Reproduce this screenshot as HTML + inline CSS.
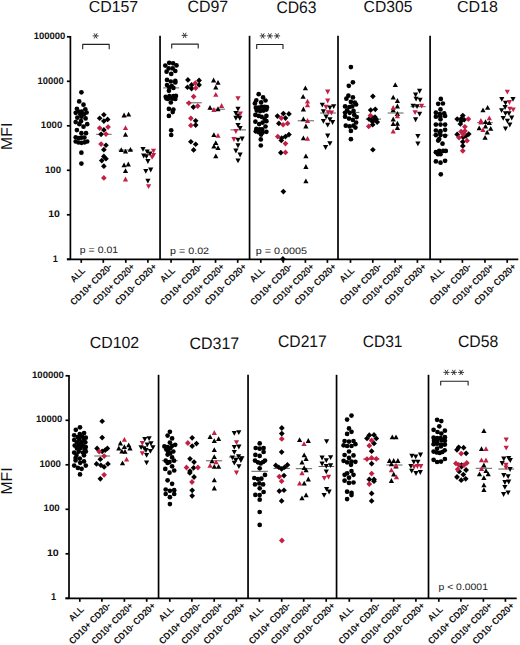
<!DOCTYPE html>
<html><head><meta charset="utf-8"><style>
html,body{margin:0;padding:0;background:#fff;}
svg{display:block;}
text{font-family:"Liberation Sans",sans-serif;}
</style></head><body>
<svg width="520" height="645" viewBox="0 0 520 645" text-rendering="geometricPrecision">
<rect width="520" height="645" fill="#fff"/>
<g stroke="#000" stroke-width="1.7" fill="none"><line x1="70.4" y1="35.949999999999996" x2="70.4" y2="259.35"/><line x1="66.9" y1="36.8" x2="70.4" y2="36.8"/><line x1="66.9" y1="81.3" x2="70.4" y2="81.3"/><line x1="66.9" y1="125.8" x2="70.4" y2="125.8"/><line x1="66.9" y1="170.3" x2="70.4" y2="170.3"/><line x1="66.9" y1="214.8" x2="70.4" y2="214.8"/><line x1="66.9" y1="259.3" x2="70.4" y2="259.3"/><line x1="66.9" y1="259.35" x2="518.3" y2="259.35"/><line x1="160.05" y1="35.8" x2="160.05" y2="259.35"/><line x1="249.55" y1="35.8" x2="249.55" y2="259.35"/><line x1="338.0" y1="35.8" x2="338.0" y2="259.35"/><line x1="430.1" y1="35.8" x2="430.1" y2="259.35"/><line x1="81.25" y1="259.35" x2="81.25" y2="262.85"/><line x1="103.3" y1="259.35" x2="103.3" y2="262.85"/><line x1="125.8" y1="259.35" x2="125.8" y2="262.85"/><line x1="147.9" y1="259.35" x2="147.9" y2="262.85"/><line x1="171.07" y1="259.35" x2="171.07" y2="262.85"/><line x1="193.3" y1="259.35" x2="193.3" y2="262.85"/><line x1="215.55" y1="259.35" x2="215.55" y2="262.85"/><line x1="237.7" y1="259.35" x2="237.7" y2="262.85"/><line x1="260.8" y1="259.35" x2="260.8" y2="262.85"/><line x1="283.3" y1="259.35" x2="283.3" y2="262.85"/><line x1="305.4" y1="259.35" x2="305.4" y2="262.85"/><line x1="327.4" y1="259.35" x2="327.4" y2="262.85"/><line x1="350.5" y1="259.35" x2="350.5" y2="262.85"/><line x1="372.8" y1="259.35" x2="372.8" y2="262.85"/><line x1="395.1" y1="259.35" x2="395.1" y2="262.85"/><line x1="417.4" y1="259.35" x2="417.4" y2="262.85"/><line x1="440.4" y1="259.35" x2="440.4" y2="262.85"/><line x1="462.4" y1="259.35" x2="462.4" y2="262.85"/><line x1="484.95" y1="259.35" x2="484.95" y2="262.85"/><line x1="507.2" y1="259.35" x2="507.2" y2="262.85"/><line x1="69.0" y1="374.95" x2="69.0" y2="598.3"/><line x1="65.5" y1="375.8" x2="69.0" y2="375.8"/><line x1="65.5" y1="420.3" x2="69.0" y2="420.3"/><line x1="65.5" y1="464.8" x2="69.0" y2="464.8"/><line x1="65.5" y1="509.3" x2="69.0" y2="509.3"/><line x1="65.5" y1="553.8" x2="69.0" y2="553.8"/><line x1="65.5" y1="598.3" x2="69.0" y2="598.3"/><line x1="65.5" y1="598.3" x2="516.7" y2="598.3"/><line x1="158.55" y1="374.8" x2="158.55" y2="598.3"/><line x1="248.05" y1="374.8" x2="248.05" y2="598.3"/><line x1="336.55" y1="374.8" x2="336.55" y2="598.3"/><line x1="428.5" y1="374.8" x2="428.5" y2="598.3"/><line x1="79.8" y1="598.3" x2="79.8" y2="601.8"/><line x1="101.9" y1="598.3" x2="101.9" y2="601.8"/><line x1="124.4" y1="598.3" x2="124.4" y2="601.8"/><line x1="146.7" y1="598.3" x2="146.7" y2="601.8"/><line x1="169.8" y1="598.3" x2="169.8" y2="601.8"/><line x1="191.9" y1="598.3" x2="191.9" y2="601.8"/><line x1="214.2" y1="598.3" x2="214.2" y2="601.8"/><line x1="236.4" y1="598.3" x2="236.4" y2="601.8"/><line x1="259.4" y1="598.3" x2="259.4" y2="601.8"/><line x1="281.7" y1="598.3" x2="281.7" y2="601.8"/><line x1="303.7" y1="598.3" x2="303.7" y2="601.8"/><line x1="326.2" y1="598.3" x2="326.2" y2="601.8"/><line x1="349.3" y1="598.3" x2="349.3" y2="601.8"/><line x1="371.4" y1="598.3" x2="371.4" y2="601.8"/><line x1="393.7" y1="598.3" x2="393.7" y2="601.8"/><line x1="415.9" y1="598.3" x2="415.9" y2="601.8"/><line x1="438.8" y1="598.3" x2="438.8" y2="601.8"/><line x1="460.9" y1="598.3" x2="460.9" y2="601.8"/><line x1="483.4" y1="598.3" x2="483.4" y2="601.8"/><line x1="505.4" y1="598.3" x2="505.4" y2="601.8"/></g>
<text x="88.83" y="12.42" font-size="15.954" font-weight="normal" fill="#111" textLength="49.38" lengthAdjust="spacingAndGlyphs">CD157</text><text x="187.45" y="12.43" font-size="16.401" font-weight="normal" fill="#111" textLength="40.78" lengthAdjust="spacingAndGlyphs">CD97</text><text x="276.38" y="12.52" font-size="16.832" font-weight="normal" fill="#111" textLength="40.21" lengthAdjust="spacingAndGlyphs">CD63</text><text x="363.58" y="12.12" font-size="16.127" font-weight="normal" fill="#111" textLength="48.79" lengthAdjust="spacingAndGlyphs">CD305</text><text x="456.90" y="12.21" font-size="15.943" font-weight="normal" fill="#111" textLength="40.93" lengthAdjust="spacingAndGlyphs">CD18</text><text x="89.71" y="348.17" font-size="16.183" font-weight="normal" fill="#111" textLength="49.46" lengthAdjust="spacingAndGlyphs">CD102</text><text x="189.43" y="348.56" font-size="16.643" font-weight="normal" fill="#111" textLength="49.81" lengthAdjust="spacingAndGlyphs">CD317</text><text x="278.03" y="347.35" font-size="16.77" font-weight="normal" fill="#111" textLength="48.79" lengthAdjust="spacingAndGlyphs">CD217</text><text x="362.68" y="346.52" font-size="16.596" font-weight="normal" fill="#111" textLength="39.79" lengthAdjust="spacingAndGlyphs">CD31</text><text x="458.03" y="346.54" font-size="16.632" font-weight="normal" fill="#111" textLength="40.22" lengthAdjust="spacingAndGlyphs">CD58</text><text x="33.67" y="39.19" font-size="9.472" font-weight="bold" fill="#111" textLength="31.74" lengthAdjust="spacingAndGlyphs">100000</text><text x="37.52" y="83.69" font-size="9.504" font-weight="bold" fill="#111" textLength="26.08" lengthAdjust="spacingAndGlyphs">10000</text><text x="40.83" y="128.19" font-size="9.458" font-weight="bold" fill="#111" textLength="21.42" lengthAdjust="spacingAndGlyphs">1000</text><text x="44.94" y="172.69" font-size="9.459" font-weight="bold" fill="#111" textLength="16.18" lengthAdjust="spacingAndGlyphs">100</text><text x="48.24" y="217.19" font-size="9.548" font-weight="bold" fill="#111" textLength="11.70" lengthAdjust="spacingAndGlyphs">10</text><text x="52.65" y="261.69" font-size="9.563" font-weight="bold" fill="#111" textLength="5.10" lengthAdjust="spacingAndGlyphs">1</text><text x="32.06" y="377.76" font-size="9.45" font-weight="bold" fill="#111" textLength="31.82" lengthAdjust="spacingAndGlyphs">100000</text><text x="36.12" y="422.26" font-size="9.46" font-weight="bold" fill="#111" textLength="26.25" lengthAdjust="spacingAndGlyphs">10000</text><text x="39.40" y="466.76" font-size="9.523" font-weight="bold" fill="#111" textLength="21.55" lengthAdjust="spacingAndGlyphs">1000</text><text x="43.62" y="511.26" font-size="9.457" font-weight="bold" fill="#111" textLength="16.15" lengthAdjust="spacingAndGlyphs">100</text><text x="46.92" y="555.76" font-size="9.472" font-weight="bold" fill="#111" textLength="11.88" lengthAdjust="spacingAndGlyphs">10</text><text x="51.11" y="600.26" font-size="9.925" font-weight="bold" fill="#111" textLength="5.15" lengthAdjust="spacingAndGlyphs">1</text><text x="79.86" y="253.33" font-size="9.4" font-weight="normal" fill="#222" textLength="38.20" lengthAdjust="spacingAndGlyphs">p = 0.01</text><text x="170.12" y="253.81" font-size="9.4" font-weight="normal" fill="#222" textLength="38.96" lengthAdjust="spacingAndGlyphs">p = 0.02</text><text x="255.78" y="253.72" font-size="9.4" font-weight="normal" fill="#222" textLength="51.32" lengthAdjust="spacingAndGlyphs">p = 0.0005</text><text x="438.51" y="590.07" font-size="9.4" font-weight="normal" fill="#222" textLength="49.42" lengthAdjust="spacingAndGlyphs">p &lt; 0.0001</text>
<g font-size="15.8" fill="#111"><text transform="translate(12,136.3) rotate(-90)" text-anchor="middle">MFI</text><text transform="translate(12,481) rotate(-90)" text-anchor="middle">MFI</text></g>
<g font-size="9.3" font-weight="bold" fill="#111"><text transform="translate(85.85,271.15) rotate(-45)" text-anchor="end" textLength="16.8" lengthAdjust="spacingAndGlyphs">ALL</text><text transform="translate(112.60,267.25) rotate(-45)" text-anchor="end" textLength="54.5" lengthAdjust="spacingAndGlyphs">CD10+ CD20-</text><text transform="translate(135.10,267.25) rotate(-45)" text-anchor="end" textLength="54.5" lengthAdjust="spacingAndGlyphs">CD10+ CD20+</text><text transform="translate(157.20,267.25) rotate(-45)" text-anchor="end" textLength="54.5" lengthAdjust="spacingAndGlyphs">CD10- CD20+</text><text transform="translate(175.67,271.15) rotate(-45)" text-anchor="end" textLength="16.8" lengthAdjust="spacingAndGlyphs">ALL</text><text transform="translate(202.60,267.25) rotate(-45)" text-anchor="end" textLength="54.5" lengthAdjust="spacingAndGlyphs">CD10+ CD20-</text><text transform="translate(224.85,267.25) rotate(-45)" text-anchor="end" textLength="54.5" lengthAdjust="spacingAndGlyphs">CD10+ CD20+</text><text transform="translate(247.00,267.25) rotate(-45)" text-anchor="end" textLength="54.5" lengthAdjust="spacingAndGlyphs">CD10- CD20+</text><text transform="translate(265.40,271.15) rotate(-45)" text-anchor="end" textLength="16.8" lengthAdjust="spacingAndGlyphs">ALL</text><text transform="translate(292.60,267.25) rotate(-45)" text-anchor="end" textLength="54.5" lengthAdjust="spacingAndGlyphs">CD10+ CD20-</text><text transform="translate(314.70,267.25) rotate(-45)" text-anchor="end" textLength="54.5" lengthAdjust="spacingAndGlyphs">CD10+ CD20+</text><text transform="translate(336.70,267.25) rotate(-45)" text-anchor="end" textLength="54.5" lengthAdjust="spacingAndGlyphs">CD10- CD20+</text><text transform="translate(355.10,271.15) rotate(-45)" text-anchor="end" textLength="16.8" lengthAdjust="spacingAndGlyphs">ALL</text><text transform="translate(382.10,267.25) rotate(-45)" text-anchor="end" textLength="54.5" lengthAdjust="spacingAndGlyphs">CD10+ CD20-</text><text transform="translate(404.40,267.25) rotate(-45)" text-anchor="end" textLength="54.5" lengthAdjust="spacingAndGlyphs">CD10+ CD20+</text><text transform="translate(426.70,267.25) rotate(-45)" text-anchor="end" textLength="54.5" lengthAdjust="spacingAndGlyphs">CD10- CD20+</text><text transform="translate(445.00,271.15) rotate(-45)" text-anchor="end" textLength="16.8" lengthAdjust="spacingAndGlyphs">ALL</text><text transform="translate(471.70,267.25) rotate(-45)" text-anchor="end" textLength="54.5" lengthAdjust="spacingAndGlyphs">CD10+ CD20-</text><text transform="translate(494.25,267.25) rotate(-45)" text-anchor="end" textLength="54.5" lengthAdjust="spacingAndGlyphs">CD10+ CD20+</text><text transform="translate(516.50,267.25) rotate(-45)" text-anchor="end" textLength="54.5" lengthAdjust="spacingAndGlyphs">CD10- CD20+</text><text transform="translate(84.40,610.10) rotate(-45)" text-anchor="end" textLength="16.8" lengthAdjust="spacingAndGlyphs">ALL</text><text transform="translate(111.20,606.20) rotate(-45)" text-anchor="end" textLength="54.5" lengthAdjust="spacingAndGlyphs">CD10+ CD20-</text><text transform="translate(133.70,606.20) rotate(-45)" text-anchor="end" textLength="54.5" lengthAdjust="spacingAndGlyphs">CD10+ CD20+</text><text transform="translate(156.00,606.20) rotate(-45)" text-anchor="end" textLength="54.5" lengthAdjust="spacingAndGlyphs">CD10- CD20+</text><text transform="translate(174.40,610.10) rotate(-45)" text-anchor="end" textLength="16.8" lengthAdjust="spacingAndGlyphs">ALL</text><text transform="translate(201.20,606.20) rotate(-45)" text-anchor="end" textLength="54.5" lengthAdjust="spacingAndGlyphs">CD10+ CD20-</text><text transform="translate(223.50,606.20) rotate(-45)" text-anchor="end" textLength="54.5" lengthAdjust="spacingAndGlyphs">CD10+ CD20+</text><text transform="translate(245.70,606.20) rotate(-45)" text-anchor="end" textLength="54.5" lengthAdjust="spacingAndGlyphs">CD10- CD20+</text><text transform="translate(264.00,610.10) rotate(-45)" text-anchor="end" textLength="16.8" lengthAdjust="spacingAndGlyphs">ALL</text><text transform="translate(291.00,606.20) rotate(-45)" text-anchor="end" textLength="54.5" lengthAdjust="spacingAndGlyphs">CD10+ CD20-</text><text transform="translate(313.00,606.20) rotate(-45)" text-anchor="end" textLength="54.5" lengthAdjust="spacingAndGlyphs">CD10+ CD20+</text><text transform="translate(335.50,606.20) rotate(-45)" text-anchor="end" textLength="54.5" lengthAdjust="spacingAndGlyphs">CD10- CD20+</text><text transform="translate(353.90,610.10) rotate(-45)" text-anchor="end" textLength="16.8" lengthAdjust="spacingAndGlyphs">ALL</text><text transform="translate(380.70,606.20) rotate(-45)" text-anchor="end" textLength="54.5" lengthAdjust="spacingAndGlyphs">CD10+ CD20-</text><text transform="translate(403.00,606.20) rotate(-45)" text-anchor="end" textLength="54.5" lengthAdjust="spacingAndGlyphs">CD10+ CD20+</text><text transform="translate(425.20,606.20) rotate(-45)" text-anchor="end" textLength="54.5" lengthAdjust="spacingAndGlyphs">CD10- CD20+</text><text transform="translate(443.40,610.10) rotate(-45)" text-anchor="end" textLength="16.8" lengthAdjust="spacingAndGlyphs">ALL</text><text transform="translate(470.20,606.20) rotate(-45)" text-anchor="end" textLength="54.5" lengthAdjust="spacingAndGlyphs">CD10+ CD20-</text><text transform="translate(492.70,606.20) rotate(-45)" text-anchor="end" textLength="54.5" lengthAdjust="spacingAndGlyphs">CD10+ CD20+</text><text transform="translate(514.70,606.20) rotate(-45)" text-anchor="end" textLength="54.5" lengthAdjust="spacingAndGlyphs">CD10- CD20+</text></g>
<g stroke="#222" stroke-width="1.1" fill="none" stroke-linejoin="round"><path d="M82.7 49.2V44.4H109.2V49.2"/><path d="M171.7 48.6V44.1H198.2V48.6"/><path d="M256.7 49V44.5H283V49"/><path d="M440.7 385.6V381.3H468.1V385.6"/></g>
<path stroke="#333" stroke-width="0.95" fill="none" d="M92.66 35.90L98.66 35.90M94.16 33.30L97.16 38.50M97.16 33.30L94.16 38.50M181.60 35.40L187.60 35.40M183.10 32.80L186.10 38.00M186.10 32.80L183.10 38.00M259.70 35.90L265.70 35.90M261.20 33.30L264.20 38.50M264.20 33.30L261.20 38.50M266.90 35.90L272.90 35.90M268.40 33.30L271.40 38.50M271.40 33.30L268.40 38.50M274.10 35.90L280.10 35.90M275.60 33.30L278.60 38.50M278.60 33.30L275.60 38.50M443.50 372.40L449.50 372.40M445.00 369.80L448.00 375.00M448.00 369.80L445.00 375.00M450.80 372.40L456.80 372.40M452.30 369.80L455.30 375.00M455.30 369.80L452.30 375.00M458.10 372.40L464.10 372.40M459.60 369.80L462.60 375.00M462.60 369.80L459.60 375.00"/>
<g stroke="#5e5e5e" stroke-width="1"><line x1="96.2" x2="111.6" y1="134.3" y2="134.3"/><line x1="118.5" x2="133.2" y1="150.0" y2="150.0"/><line x1="163.2" x2="179.1" y1="87.9" y2="87.9"/><line x1="186.1" x2="201.8" y1="102.8" y2="102.8"/><line x1="209.0" x2="225.0" y1="109.2" y2="109.2"/><line x1="230.5" x2="246.0" y1="129.9" y2="129.9"/><line x1="297.7" x2="314.0" y1="120.8" y2="120.8"/><line x1="320.1" x2="335.9" y1="113.0" y2="113.0"/><line x1="365.8" x2="381.0" y1="119.1" y2="119.1"/><line x1="387.7" x2="403.5" y1="113.0" y2="113.0"/><line x1="410.5" x2="425.7" y1="106.7" y2="106.7"/><line x1="342.5" x2="359.4" y1="112.4" y2="112.4"/><line x1="432.6" x2="448.4" y1="135.1" y2="135.1"/><line x1="477.1" x2="492.8" y1="122.7" y2="122.7"/><line x1="94.3" x2="110.1" y1="456.0" y2="456.0"/><line x1="161.9" x2="177.8" y1="460.7" y2="460.7"/><line x1="206.0" x2="222.2" y1="460.8" y2="460.8"/><line x1="228.9" x2="244.4" y1="457.0" y2="457.0"/><line x1="251.4" x2="267.9" y1="471.3" y2="471.3"/><line x1="273.5" x2="289.8" y1="468.4" y2="468.4"/><line x1="295.8" x2="312.1" y1="468.7" y2="468.7"/><line x1="318.5" x2="334.2" y1="466.5" y2="466.5"/><line x1="386.3" x2="402.5" y1="465.0" y2="465.0"/><line x1="475.7" x2="492.0" y1="468.3" y2="468.3"/><line x1="498.3" x2="514.1" y1="469.0" y2="469.0"/></g>
<g stroke="#c41f45" stroke-width="1.2"><line x1="363.2" x2="379.4" y1="459.1" y2="459.1"/></g>
<g fill="#c41f45"><path d="M374.0 117.6L376.8 120.4L374.0 123.3L371.1 120.4Z"/></g>
<g fill="#000"><circle cx="81.4" cy="92.3" r="2.35"/><circle cx="79.2" cy="101.4" r="2.35"/><circle cx="83.5" cy="104.7" r="2.35"/><circle cx="76.9" cy="108.8" r="2.35"/><circle cx="85.3" cy="109.3" r="2.35"/><circle cx="75.7" cy="112.8" r="2.35"/><circle cx="78.5" cy="111.5" r="2.35"/><circle cx="81.6" cy="111.5" r="2.35"/><circle cx="86.6" cy="112.5" r="2.35"/><circle cx="80.4" cy="114.3" r="2.35"/><circle cx="83.9" cy="114.3" r="2.35"/><circle cx="77.3" cy="117.7" r="2.35"/><circle cx="81.4" cy="116.7" r="2.35"/><circle cx="85.6" cy="118.4" r="2.35"/><circle cx="75.7" cy="122.1" r="2.35"/><circle cx="81.0" cy="121.2" r="2.35"/><circle cx="79.4" cy="124.2" r="2.35"/><circle cx="87.2" cy="124.2" r="2.35"/><circle cx="83.5" cy="126.7" r="2.35"/><circle cx="76.9" cy="130.1" r="2.35"/><circle cx="81.4" cy="133.2" r="2.35"/><circle cx="86.0" cy="133.2" r="2.35"/><circle cx="75.7" cy="137.3" r="2.35"/><circle cx="78.9" cy="138.2" r="2.35"/><circle cx="81.6" cy="137.6" r="2.35"/><circle cx="84.4" cy="137.6" r="2.35"/><circle cx="75.7" cy="141.5" r="2.35"/><circle cx="78.5" cy="142.5" r="2.35"/><circle cx="81.6" cy="142.8" r="2.35"/><circle cx="84.7" cy="142.3" r="2.35"/><circle cx="87.2" cy="141.5" r="2.35"/><circle cx="81.4" cy="152.7" r="2.35"/><circle cx="81.4" cy="163.6" r="2.35"/><path d="M103.9 111.9L106.7 114.8L103.9 117.6L101.0 114.8Z"/><path d="M99.7 115.4L102.5 118.3L99.7 121.1L96.8 118.3Z"/><path d="M107.6 116.5L110.5 119.4L107.6 122.2L104.8 119.4Z"/><path d="M103.9 118.2L106.7 121.1L103.9 123.9L101.0 121.1Z"/><path d="M103.9 127.0L106.7 129.9L103.9 132.7L101.0 129.9Z"/><path d="M101.1 131.5L103.9 134.3L101.1 137.2L98.2 134.3Z"/><path d="M106.0 142.4L108.8 145.2L106.0 148.1L103.1 145.2Z"/><path d="M103.9 146.8L106.7 149.7L103.9 152.5L101.0 149.7Z"/><path d="M103.9 153.5L106.7 156.4L103.9 159.2L101.0 156.4Z"/><path d="M106.0 155.9L108.8 158.8L106.0 161.6L103.1 158.8Z"/><path d="M101.8 157.7L104.6 160.6L101.8 163.4L98.9 160.6Z"/><path d="M103.9 163.3L106.7 166.2L103.9 169.0L101.0 166.2Z"/><path d="M124.1 112.6L126.7 117.5L121.5 117.5Z"/><path d="M128.6 111.7L131.2 116.5L126.0 116.5Z"/><path d="M125.5 131.9L128.1 136.8L122.9 136.8Z"/><path d="M121.3 147.3L123.9 152.1L118.7 152.1Z"/><path d="M125.5 148.7L128.1 153.5L122.9 153.5Z"/><path d="M130.4 147.0L133.0 151.8L127.8 151.8Z"/><path d="M124.1 162.4L126.7 167.2L121.5 167.2Z"/><path d="M128.3 161.5L130.9 166.4L125.7 166.4Z"/><path d="M125.5 168.2L128.1 173.1L122.9 173.1Z"/><path d="M143.0 151.8L145.6 147.0L140.4 147.0Z"/><path d="M147.2 154.2L149.8 149.4L144.6 149.4Z"/><path d="M143.7 158.4L146.3 153.6L141.1 153.6Z"/><path d="M146.5 159.1L149.1 154.3L143.9 154.3Z"/><path d="M150.0 156.3L152.6 151.5L147.4 151.5Z"/><path d="M147.9 164.0L150.5 159.1L145.3 159.1Z"/><path d="M145.8 173.8L148.4 168.9L143.2 168.9Z"/><path d="M150.7 172.4L153.3 167.5L148.1 167.5Z"/><path d="M147.9 183.5L150.5 178.7L145.3 178.7Z"/><circle cx="169.2" cy="62.8" r="2.35"/><circle cx="173.1" cy="63.3" r="2.35"/><circle cx="176.5" cy="65.4" r="2.35"/><circle cx="165.3" cy="65.6" r="2.35"/><circle cx="168.7" cy="68.4" r="2.35"/><circle cx="172.7" cy="68.4" r="2.35"/><circle cx="166.6" cy="71.7" r="2.35"/><circle cx="175.3" cy="71.0" r="2.35"/><circle cx="171.2" cy="73.9" r="2.35"/><circle cx="167.0" cy="79.9" r="2.35"/><circle cx="170.8" cy="81.5" r="2.35"/><circle cx="175.3" cy="80.9" r="2.35"/><circle cx="175.3" cy="82.4" r="2.35"/><circle cx="167.0" cy="85.0" r="2.35"/><circle cx="171.7" cy="86.0" r="2.35"/><circle cx="173.4" cy="87.9" r="2.35"/><circle cx="169.2" cy="87.3" r="2.35"/><circle cx="168.9" cy="90.8" r="2.35"/><circle cx="165.7" cy="96.8" r="2.35"/><circle cx="169.5" cy="96.2" r="2.35"/><circle cx="173.4" cy="96.2" r="2.35"/><circle cx="175.9" cy="95.9" r="2.35"/><circle cx="167.9" cy="99.0" r="2.35"/><circle cx="172.1" cy="98.7" r="2.35"/><circle cx="175.3" cy="99.0" r="2.35"/><circle cx="170.8" cy="102.5" r="2.35"/><circle cx="166.4" cy="98.5" r="2.35"/><circle cx="168.9" cy="108.9" r="2.35"/><circle cx="173.4" cy="109.5" r="2.35"/><circle cx="172.7" cy="112.1" r="2.35"/><circle cx="168.9" cy="115.9" r="2.35"/><circle cx="171.2" cy="130.3" r="2.35"/><circle cx="171.2" cy="135.0" r="2.35"/><path d="M187.9 77.1L190.8 79.9L187.9 82.8L185.1 79.9Z"/><path d="M199.1 77.6L201.9 80.4L199.1 83.3L196.2 80.4Z"/><path d="M191.6 82.1L194.4 84.9L191.6 87.8L188.7 84.9Z"/><path d="M199.1 82.1L201.9 84.9L199.1 87.8L196.2 84.9Z"/><path d="M187.5 84.4L190.3 87.3L187.5 90.1L184.6 87.3Z"/><path d="M191.6 85.8L194.4 88.6L191.6 91.5L188.7 88.6Z"/><path d="M193.4 104.3L196.2 107.1L193.4 110.0L190.5 107.1Z"/><path d="M195.7 117.9L198.5 120.8L195.7 123.6L192.8 120.8Z"/><path d="M195.7 122.3L198.5 125.1L195.7 128.0L192.8 125.1Z"/><path d="M190.9 138.9L193.7 141.8L190.9 144.6L188.0 141.8Z"/><path d="M195.7 141.4L198.5 144.2L195.7 147.1L192.8 144.2Z"/><path d="M193.6 147.1L196.5 149.9L193.6 152.8L190.8 149.9Z"/><path d="M213.6 77.5L216.2 82.4L211.0 82.4Z"/><path d="M218.0 79.9L220.6 84.8L215.4 84.8Z"/><path d="M215.8 84.7L218.4 89.6L213.2 89.6Z"/><path d="M210.0 104.9L212.6 109.7L207.4 109.7Z"/><path d="M218.0 106.3L220.6 111.2L215.4 111.2Z"/><path d="M213.9 132.3L216.5 137.1L211.3 137.1Z"/><path d="M215.8 140.2L218.4 145.0L213.2 145.0Z"/><path d="M213.9 143.8L216.5 148.6L211.3 148.6Z"/><path d="M218.0 145.2L220.6 150.1L215.4 150.1Z"/><path d="M215.8 153.4L218.4 158.3L213.2 158.3Z"/><path d="M238.0 111.6L240.6 106.8L235.4 106.8Z"/><path d="M235.9 115.7L238.5 110.9L233.3 110.9Z"/><path d="M235.9 120.7L238.5 115.8L233.3 115.8Z"/><path d="M239.8 120.7L242.4 115.8L237.2 115.8Z"/><path d="M238.0 118.4L240.6 113.6L235.4 113.6Z"/><path d="M238.0 127.7L240.6 122.9L235.4 122.9Z"/><path d="M240.1 130.8L242.7 126.0L237.5 126.0Z"/><path d="M238.0 142.6L240.6 137.8L235.4 137.8Z"/><path d="M242.1 141.4L244.7 136.5L239.5 136.5Z"/><path d="M238.0 148.2L240.6 143.3L235.4 143.3Z"/><path d="M235.9 153.4L238.5 148.5L233.3 148.5Z"/><path d="M240.1 157.5L242.7 152.6L237.5 152.6Z"/><path d="M238.0 163.3L240.6 158.5L235.4 158.5Z"/><circle cx="258.7" cy="94.2" r="2.35"/><circle cx="263.1" cy="97.4" r="2.35"/><circle cx="265.5" cy="100.5" r="2.35"/><circle cx="256.3" cy="100.3" r="2.35"/><circle cx="261.1" cy="102.4" r="2.35"/><circle cx="254.9" cy="103.4" r="2.35"/><circle cx="255.8" cy="107.7" r="2.35"/><circle cx="258.7" cy="107.7" r="2.35"/><circle cx="261.6" cy="106.8" r="2.35"/><circle cx="264.5" cy="106.8" r="2.35"/><circle cx="266.9" cy="107.2" r="2.35"/><circle cx="256.8" cy="110.6" r="2.35"/><circle cx="260.2" cy="111.1" r="2.35"/><circle cx="263.5" cy="110.6" r="2.35"/><circle cx="266.4" cy="109.6" r="2.35"/><circle cx="255.4" cy="114.9" r="2.35"/><circle cx="258.7" cy="115.9" r="2.35"/><circle cx="261.6" cy="116.8" r="2.35"/><circle cx="266.4" cy="115.9" r="2.35"/><circle cx="264.5" cy="118.8" r="2.35"/><circle cx="255.4" cy="121.7" r="2.35"/><circle cx="259.2" cy="124.1" r="2.35"/><circle cx="262.6" cy="122.6" r="2.35"/><circle cx="266.4" cy="121.2" r="2.35"/><circle cx="265.5" cy="126.5" r="2.35"/><circle cx="256.3" cy="128.9" r="2.35"/><circle cx="259.7" cy="129.3" r="2.35"/><circle cx="262.1" cy="129.3" r="2.35"/><circle cx="255.8" cy="131.3" r="2.35"/><circle cx="258.7" cy="132.2" r="2.35"/><circle cx="262.6" cy="132.4" r="2.35"/><circle cx="266.4" cy="131.8" r="2.35"/><circle cx="261.1" cy="134.6" r="2.35"/><circle cx="260.8" cy="139.4" r="2.35"/><circle cx="260.8" cy="145.5" r="2.35"/><path d="M283.4 110.7L286.2 113.6L283.4 116.4L280.5 113.6Z"/><path d="M288.9 111.0L291.8 113.9L288.9 116.7L286.1 113.9Z"/><path d="M277.5 113.3L280.3 116.1L277.5 119.0L274.6 116.1Z"/><path d="M285.5 115.2L288.3 118.1L285.5 120.9L282.6 118.1Z"/><path d="M278.9 120.5L281.7 123.4L278.9 126.2L276.0 123.4Z"/><path d="M281.7 135.2L284.5 138.0L281.7 140.9L278.8 138.0Z"/><path d="M281.3 137.6L284.1 140.4L281.3 143.3L278.4 140.4Z"/><path d="M285.5 133.8L288.3 136.6L285.5 139.5L282.6 136.6Z"/><path d="M288.9 131.7L291.8 134.5L288.9 137.4L286.1 134.5Z"/><path d="M280.8 149.8L283.7 152.7L280.8 155.5L278.0 152.7Z"/><path d="M283.4 188.7L286.2 191.5L283.4 194.4L280.5 191.5Z"/><path d="M282.9 256.1L285.8 259.0L282.9 261.9L280.0 259.0Z"/><path d="M305.4 85.4L308.0 90.3L302.8 90.3Z"/><path d="M303.1 93.9L305.7 98.7L300.5 98.7Z"/><path d="M303.4 106.6L306.0 111.5L300.8 111.5Z"/><path d="M303.4 116.4L306.0 121.3L300.8 121.3Z"/><path d="M305.9 123.6L308.5 128.4L303.3 128.4Z"/><path d="M303.4 135.5L306.0 140.3L300.8 140.3Z"/><path d="M305.9 153.4L308.5 158.3L303.3 158.3Z"/><path d="M305.9 164.0L308.5 168.9L303.3 168.9Z"/><path d="M305.9 178.4L308.5 183.2L303.3 183.2Z"/><path d="M322.3 107.5L324.9 102.7L319.7 102.7Z"/><path d="M329.9 110.2L332.5 105.4L327.3 105.4Z"/><path d="M333.7 109.1L336.3 104.3L331.1 104.3Z"/><path d="M323.4 114.0L326.0 109.2L320.8 109.2Z"/><path d="M326.1 119.5L328.7 114.6L323.5 114.6Z"/><path d="M323.4 123.8L326.0 118.9L320.8 118.9Z"/><path d="M329.9 122.2L332.5 117.3L327.3 117.3Z"/><path d="M332.6 124.9L335.2 120.0L330.0 120.0Z"/><path d="M327.7 127.6L330.3 122.7L325.1 122.7Z"/><path d="M327.7 138.5L330.3 133.6L325.1 133.6Z"/><path d="M329.9 146.1L332.5 141.2L327.3 141.2Z"/><path d="M325.6 149.9L328.2 145.0L323.0 145.0Z"/><circle cx="350.9" cy="67.1" r="2.35"/><circle cx="352.9" cy="82.3" r="2.35"/><circle cx="348.8" cy="85.8" r="2.35"/><circle cx="348.4" cy="95.7" r="2.35"/><circle cx="346.4" cy="98.7" r="2.35"/><circle cx="352.9" cy="97.4" r="2.35"/><circle cx="350.9" cy="101.9" r="2.35"/><circle cx="354.8" cy="102.5" r="2.35"/><circle cx="345.1" cy="106.4" r="2.35"/><circle cx="349.3" cy="107.0" r="2.35"/><circle cx="356.1" cy="104.5" r="2.35"/><circle cx="352.2" cy="106.4" r="2.35"/><circle cx="347.1" cy="110.3" r="2.35"/><circle cx="353.5" cy="110.9" r="2.35"/><circle cx="349.7" cy="112.8" r="2.35"/><circle cx="345.1" cy="112.8" r="2.35"/><circle cx="354.2" cy="114.8" r="2.35"/><circle cx="345.1" cy="116.7" r="2.35"/><circle cx="349.0" cy="118.6" r="2.35"/><circle cx="352.9" cy="119.9" r="2.35"/><circle cx="356.7" cy="117.1" r="2.35"/><circle cx="345.8" cy="125.7" r="2.35"/><circle cx="349.7" cy="126.4" r="2.35"/><circle cx="353.5" cy="125.7" r="2.35"/><circle cx="356.1" cy="122.5" r="2.35"/><circle cx="355.4" cy="127.6" r="2.35"/><circle cx="350.9" cy="130.9" r="2.35"/><circle cx="350.9" cy="139.2" r="2.35"/><path d="M372.9 93.5L375.7 96.3L372.9 99.2L370.0 96.3Z"/><path d="M370.7 107.3L373.5 110.1L370.7 113.0L367.8 110.1Z"/><path d="M375.3 106.5L378.1 109.3L375.3 112.2L372.4 109.3Z"/><path d="M369.1 116.3L371.9 119.1L369.1 122.0L366.2 119.1Z"/><path d="M372.9 114.9L375.7 117.7L372.9 120.6L370.0 117.7Z"/><path d="M375.0 114.3L377.9 117.2L375.0 120.0L372.2 117.2Z"/><path d="M377.2 119.2L380.1 122.1L377.2 124.9L374.4 122.1Z"/><path d="M376.1 116.5L379.0 119.3L376.1 122.2L373.3 119.3Z"/><path d="M372.7 121.9L375.5 124.8L372.7 127.6L369.8 124.8Z"/><path d="M372.3 118.7L375.2 121.5L372.3 124.4L369.5 121.5Z"/><path d="M372.9 146.9L375.7 149.8L372.9 152.6L370.0 149.8Z"/><path d="M372.3 117.0L375.2 119.8L372.3 122.6L369.4 119.8Z"/><path d="M395.3 82.2L397.9 87.1L392.7 87.1Z"/><path d="M393.2 94.8L395.8 99.6L390.6 99.6Z"/><path d="M397.4 98.0L400.0 102.9L394.8 102.9Z"/><path d="M397.4 103.6L400.0 108.5L394.8 108.5Z"/><path d="M393.2 107.3L395.8 112.2L390.6 112.2Z"/><path d="M397.4 111.1L400.0 115.9L394.8 115.9Z"/><path d="M393.2 116.6L395.8 121.5L390.6 121.5Z"/><path d="M393.2 121.3L395.8 126.1L390.6 126.1Z"/><path d="M397.4 120.8L400.0 125.7L394.8 125.7Z"/><path d="M397.4 125.0L400.0 129.9L394.8 129.9Z"/><path d="M419.6 93.7L422.2 88.8L417.0 88.8Z"/><path d="M415.6 97.5L418.2 92.6L413.0 92.6Z"/><path d="M416.1 101.5L418.7 96.7L413.5 96.7Z"/><path d="M420.1 102.5L422.7 97.7L417.5 97.7Z"/><path d="M413.1 108.6L415.7 103.7L410.5 103.7Z"/><path d="M417.1 109.1L419.7 104.2L414.5 104.2Z"/><path d="M419.6 116.6L422.2 111.8L417.0 111.8Z"/><path d="M415.6 122.2L418.2 117.3L413.0 117.3Z"/><path d="M417.9 138.8L420.5 133.9L415.3 133.9Z"/><path d="M417.9 146.3L420.5 141.5L415.3 141.5Z"/><circle cx="440.8" cy="98.9" r="2.35"/><circle cx="438.2" cy="103.8" r="2.35"/><circle cx="442.9" cy="103.5" r="2.35"/><circle cx="440.5" cy="109.4" r="2.35"/><circle cx="435.9" cy="112.7" r="2.35"/><circle cx="439.9" cy="114.1" r="2.35"/><circle cx="444.2" cy="113.4" r="2.35"/><circle cx="435.9" cy="116.7" r="2.35"/><circle cx="440.3" cy="116.4" r="2.35"/><circle cx="445.1" cy="116.0" r="2.35"/><circle cx="440.5" cy="119.3" r="2.35"/><circle cx="435.9" cy="124.6" r="2.35"/><circle cx="440.5" cy="124.6" r="2.35"/><circle cx="445.1" cy="124.6" r="2.35"/><circle cx="435.9" cy="130.5" r="2.35"/><circle cx="440.5" cy="131.2" r="2.35"/><circle cx="445.1" cy="129.8" r="2.35"/><circle cx="439.9" cy="132.5" r="2.35"/><circle cx="435.9" cy="135.1" r="2.35"/><circle cx="440.5" cy="135.1" r="2.35"/><circle cx="445.1" cy="135.8" r="2.35"/><circle cx="439.2" cy="139.1" r="2.35"/><circle cx="438.2" cy="140.6" r="2.35"/><circle cx="442.5" cy="143.7" r="2.35"/><circle cx="435.9" cy="152.2" r="2.35"/><circle cx="439.2" cy="150.9" r="2.35"/><circle cx="443.2" cy="150.9" r="2.35"/><circle cx="445.8" cy="150.9" r="2.35"/><circle cx="437.9" cy="154.2" r="2.35"/><circle cx="440.5" cy="154.2" r="2.35"/><circle cx="435.9" cy="161.4" r="2.35"/><circle cx="440.5" cy="162.7" r="2.35"/><circle cx="445.1" cy="160.8" r="2.35"/><circle cx="440.8" cy="174.3" r="2.35"/><path d="M462.8 112.8L465.7 115.6L462.8 118.4L459.9 115.6Z"/><path d="M457.2 116.2L460.1 119.1L457.2 121.9L454.3 119.1Z"/><path d="M461.1 115.9L464.0 118.7L461.1 121.5L458.2 118.7Z"/><path d="M464.2 117.0L467.1 119.8L464.2 122.6L461.3 119.8Z"/><path d="M461.1 118.4L464.0 121.2L461.1 124.0L458.2 121.2Z"/><path d="M460.4 121.2L463.2 124.0L460.4 126.8L457.5 124.0Z"/><path d="M457.2 131.6L460.1 134.4L457.2 137.2L454.3 134.4Z"/><path d="M468.7 131.2L471.6 134.1L468.7 136.9L465.8 134.1Z"/><path d="M466.0 133.0L468.9 135.8L466.0 138.7L463.1 135.8Z"/><path d="M463.2 134.3L466.1 137.2L463.2 140.0L460.3 137.2Z"/><path d="M462.8 139.0L465.7 141.8L462.8 144.7L459.9 141.8Z"/><path d="M462.8 143.1L465.7 145.9L462.8 148.8L459.9 145.9Z"/><path d="M487.6 104.9L490.2 109.7L485.0 109.7Z"/><path d="M483.0 107.4L485.6 112.2L480.4 112.2Z"/><path d="M485.5 119.2L488.1 124.0L482.9 124.0Z"/><path d="M489.3 120.3L491.9 125.1L486.7 125.1Z"/><path d="M479.2 125.5L481.8 130.3L476.6 130.3Z"/><path d="M485.5 123.8L488.1 128.6L482.9 128.6Z"/><path d="M490.7 125.9L493.3 130.7L488.1 130.7Z"/><path d="M487.2 129.7L489.8 134.5L484.6 134.5Z"/><path d="M485.1 135.0L487.7 139.8L482.5 139.8Z"/><path d="M501.8 101.8L504.4 97.0L499.2 97.0Z"/><path d="M513.0 101.8L515.6 97.0L510.4 97.0Z"/><path d="M505.5 105.6L508.1 100.8L502.9 100.8Z"/><path d="M505.1 109.9L507.7 105.1L502.5 105.1Z"/><path d="M501.6 113.0L504.2 108.2L499.0 108.2Z"/><path d="M505.5 116.1L508.1 111.3L502.9 111.3Z"/><path d="M509.0 116.1L511.6 111.3L506.4 111.3Z"/><path d="M503.2 120.8L505.8 116.0L500.6 116.0Z"/><path d="M511.7 120.4L514.3 115.6L509.1 115.6Z"/><path d="M507.4 123.5L510.0 118.7L504.8 118.7Z"/><path d="M509.8 127.4L512.4 122.6L507.2 122.6Z"/><path d="M505.5 131.3L508.1 126.5L502.9 126.5Z"/><circle cx="80.0" cy="427.3" r="2.35"/><circle cx="75.8" cy="429.8" r="2.35"/><circle cx="84.1" cy="433.0" r="2.35"/><circle cx="79.8" cy="434.1" r="2.35"/><circle cx="74.2" cy="435.3" r="2.35"/><circle cx="85.8" cy="437.7" r="2.35"/><circle cx="77.9" cy="437.2" r="2.35"/><circle cx="82.1" cy="436.7" r="2.35"/><circle cx="74.2" cy="440.0" r="2.35"/><circle cx="79.3" cy="439.5" r="2.35"/><circle cx="84.0" cy="440.0" r="2.35"/><circle cx="77.0" cy="442.3" r="2.35"/><circle cx="81.2" cy="442.3" r="2.35"/><circle cx="85.3" cy="442.3" r="2.35"/><circle cx="74.7" cy="445.6" r="2.35"/><circle cx="78.8" cy="445.1" r="2.35"/><circle cx="83.0" cy="445.6" r="2.35"/><circle cx="85.8" cy="447.0" r="2.35"/><circle cx="77.0" cy="448.4" r="2.35"/><circle cx="80.7" cy="447.9" r="2.35"/><circle cx="84.9" cy="449.3" r="2.35"/><circle cx="74.2" cy="452.6" r="2.35"/><circle cx="78.8" cy="451.6" r="2.35"/><circle cx="83.0" cy="452.6" r="2.35"/><circle cx="85.8" cy="451.6" r="2.35"/><circle cx="76.5" cy="454.9" r="2.35"/><circle cx="84.0" cy="455.3" r="2.35"/><circle cx="75.6" cy="458.1" r="2.35"/><circle cx="79.8" cy="458.6" r="2.35"/><circle cx="75.6" cy="460.5" r="2.35"/><circle cx="80.2" cy="462.8" r="2.35"/><circle cx="84.0" cy="461.4" r="2.35"/><circle cx="74.2" cy="465.6" r="2.35"/><circle cx="85.8" cy="465.6" r="2.35"/><circle cx="77.9" cy="467.9" r="2.35"/><circle cx="81.6" cy="468.8" r="2.35"/><circle cx="80.0" cy="474.4" r="2.35"/><path d="M102.2 418.4L105.0 421.2L102.2 424.1L99.3 421.2Z"/><path d="M102.2 434.7L105.0 437.5L102.2 440.4L99.3 437.5Z"/><path d="M97.1 445.6L99.9 448.4L97.1 451.3L94.2 448.4Z"/><path d="M107.4 445.6L110.2 448.4L107.4 451.3L104.5 448.4Z"/><path d="M102.2 448.5L105.0 451.3L102.2 454.2L99.3 451.3Z"/><path d="M105.2 447.2L108.1 450.0L105.2 452.9L102.4 450.0Z"/><path d="M100.3 456.4L103.2 459.3L100.3 462.1L97.5 459.3Z"/><path d="M96.5 461.1L99.4 464.0L96.5 466.8L93.7 464.0Z"/><path d="M100.9 462.4L103.7 465.3L100.9 468.1L98.0 465.3Z"/><path d="M104.1 464.0L107.0 466.9L104.1 469.7L101.3 466.9Z"/><path d="M107.9 461.1L110.8 464.0L107.9 466.8L105.1 464.0Z"/><path d="M100.3 476.0L103.2 478.8L100.3 481.7L97.5 478.8Z"/><path d="M120.4 440.6L123.0 445.4L117.8 445.4Z"/><path d="M128.7 442.5L131.3 447.3L126.1 447.3Z"/><path d="M118.8 445.6L121.4 450.4L116.2 450.4Z"/><path d="M124.4 444.3L127.0 449.1L121.8 449.1Z"/><path d="M130.0 445.6L132.6 450.4L127.4 450.4Z"/><path d="M121.9 448.7L124.5 453.5L119.3 453.5Z"/><path d="M125.0 449.0L127.6 453.8L122.4 453.8Z"/><path d="M122.5 460.5L125.1 465.3L119.9 465.3Z"/><path d="M144.8 441.7L147.4 436.9L142.2 436.9Z"/><path d="M149.1 441.1L151.7 436.3L146.5 436.3Z"/><path d="M147.3 447.3L149.9 442.5L144.7 442.5Z"/><path d="M151.0 446.0L153.6 441.2L148.4 441.2Z"/><path d="M141.1 450.1L143.7 445.3L138.5 445.3Z"/><path d="M144.2 451.0L146.8 446.2L141.6 446.2Z"/><path d="M152.9 450.1L155.5 445.3L150.3 445.3Z"/><path d="M146.0 452.9L148.6 448.1L143.4 448.1Z"/><path d="M150.4 453.8L153.0 449.0L147.8 449.0Z"/><path d="M146.6 457.8L149.2 453.0L144.0 453.0Z"/><path d="M146.6 465.3L149.2 460.5L144.0 460.5Z"/><circle cx="169.9" cy="431.8" r="2.35"/><circle cx="167.6" cy="435.6" r="2.35"/><circle cx="172.1" cy="438.4" r="2.35"/><circle cx="169.9" cy="442.6" r="2.35"/><circle cx="164.4" cy="446.4" r="2.35"/><circle cx="167.6" cy="447.0" r="2.35"/><circle cx="172.1" cy="445.8" r="2.35"/><circle cx="175.2" cy="444.8" r="2.35"/><circle cx="166.3" cy="449.6" r="2.35"/><circle cx="170.2" cy="448.3" r="2.35"/><circle cx="168.2" cy="451.5" r="2.35"/><circle cx="173.3" cy="451.5" r="2.35"/><circle cx="167.6" cy="454.6" r="2.35"/><circle cx="170.2" cy="453.4" r="2.35"/><circle cx="172.1" cy="457.4" r="2.35"/><circle cx="165.7" cy="460.7" r="2.35"/><circle cx="169.5" cy="462.0" r="2.35"/><circle cx="174.0" cy="460.7" r="2.35"/><circle cx="167.6" cy="462.9" r="2.35"/><circle cx="172.1" cy="466.3" r="2.35"/><circle cx="165.3" cy="468.9" r="2.35"/><circle cx="174.2" cy="470.5" r="2.35"/><circle cx="169.5" cy="472.7" r="2.35"/><circle cx="167.6" cy="480.3" r="2.35"/><circle cx="172.1" cy="483.8" r="2.35"/><circle cx="165.7" cy="489.5" r="2.35"/><circle cx="169.9" cy="490.8" r="2.35"/><circle cx="174.2" cy="490.2" r="2.35"/><circle cx="165.7" cy="494.0" r="2.35"/><circle cx="174.2" cy="494.0" r="2.35"/><circle cx="169.9" cy="497.2" r="2.35"/><circle cx="169.9" cy="504.1" r="2.35"/><path d="M192.2 434.9L195.0 437.8L192.2 440.7L189.3 437.8Z"/><path d="M196.5 440.8L199.3 443.6L196.5 446.5L193.7 443.6Z"/><path d="M192.2 443.2L195.0 446.1L192.2 449.0L189.3 446.1Z"/><path d="M190.0 455.9L192.8 458.8L190.0 461.7L187.2 458.8Z"/><path d="M194.1 459.2L196.9 462.1L194.1 465.0L191.2 462.1Z"/><path d="M193.6 464.9L196.4 467.8L193.6 470.7L190.8 467.8Z"/><path d="M190.0 468.2L192.8 471.1L190.0 474.0L187.2 471.1Z"/><path d="M189.8 470.0L192.7 472.9L189.8 475.8L187.0 472.9Z"/><path d="M194.1 474.1L196.9 477.0L194.1 479.9L191.2 477.0Z"/><path d="M192.2 487.4L195.0 490.3L192.2 493.2L189.3 490.3Z"/><path d="M192.2 492.9L195.0 495.8L192.2 498.7L189.3 495.8Z"/><path d="M210.1 434.2L212.7 439.0L207.5 439.0Z"/><path d="M218.6 436.2L221.2 441.0L216.0 441.0Z"/><path d="M214.3 438.2L216.9 443.0L211.7 443.0Z"/><path d="M214.3 447.3L216.9 452.1L211.7 452.1Z"/><path d="M214.3 454.3L216.9 459.1L211.7 459.1Z"/><path d="M212.1 458.4L214.7 463.2L209.5 463.2Z"/><path d="M214.3 463.9L216.9 468.7L211.7 468.7Z"/><path d="M218.6 463.9L221.2 468.7L216.0 468.7Z"/><path d="M214.3 477.5L216.9 482.3L211.7 482.3Z"/><path d="M214.3 485.6L216.9 490.4L211.7 490.4Z"/><path d="M234.3 435.8L236.9 431.0L231.7 431.0Z"/><path d="M238.8 435.0L241.4 430.2L236.2 430.2Z"/><path d="M234.3 449.8L236.9 445.0L231.7 445.0Z"/><path d="M238.9 449.4L241.5 444.6L236.3 444.6Z"/><path d="M234.3 454.8L236.9 450.0L231.7 450.0Z"/><path d="M232.4 460.2L235.0 455.4L229.8 455.4Z"/><path d="M238.6 459.1L241.2 454.3L236.0 454.3Z"/><path d="M241.7 461.0L244.3 456.2L239.1 456.2Z"/><path d="M235.8 462.9L238.4 458.1L233.2 458.1Z"/><path d="M234.3 465.6L236.9 460.8L231.7 460.8Z"/><path d="M240.9 462.9L243.5 458.1L238.3 458.1Z"/><path d="M238.9 469.1L241.5 464.3L236.3 464.3Z"/><circle cx="259.7" cy="443.4" r="2.35"/><circle cx="255.7" cy="448.0" r="2.35"/><circle cx="259.7" cy="448.7" r="2.35"/><circle cx="263.6" cy="448.0" r="2.35"/><circle cx="263.6" cy="452.0" r="2.35"/><circle cx="255.4" cy="454.9" r="2.35"/><circle cx="259.7" cy="455.9" r="2.35"/><circle cx="255.0" cy="460.6" r="2.35"/><circle cx="257.9" cy="462.3" r="2.35"/><circle cx="260.7" cy="463.4" r="2.35"/><circle cx="263.1" cy="462.0" r="2.35"/><circle cx="265.0" cy="460.6" r="2.35"/><circle cx="259.7" cy="468.3" r="2.35"/><circle cx="265.0" cy="474.9" r="2.35"/><circle cx="254.3" cy="478.0" r="2.35"/><circle cx="257.9" cy="479.1" r="2.35"/><circle cx="261.4" cy="478.7" r="2.35"/><circle cx="255.0" cy="484.4" r="2.35"/><circle cx="259.3" cy="483.4" r="2.35"/><circle cx="263.1" cy="484.4" r="2.35"/><circle cx="259.7" cy="488.3" r="2.35"/><circle cx="263.6" cy="492.0" r="2.35"/><circle cx="255.4" cy="494.9" r="2.35"/><circle cx="259.7" cy="495.1" r="2.35"/><circle cx="259.7" cy="499.7" r="2.35"/><circle cx="259.7" cy="512.0" r="2.35"/><circle cx="259.7" cy="524.9" r="2.35"/><path d="M281.6 449.2L284.5 452.1L281.6 454.9L278.8 452.1Z"/><path d="M275.8 462.6L278.7 465.5L275.8 468.3L273.0 465.5Z"/><path d="M278.7 464.4L281.6 467.2L278.7 470.1L275.9 467.2Z"/><path d="M281.6 466.1L284.5 469.0L281.6 471.8L278.8 469.0Z"/><path d="M284.5 464.4L287.4 467.2L284.5 470.1L281.7 467.2Z"/><path d="M287.4 462.0L290.3 464.9L287.4 467.7L284.6 464.9Z"/><path d="M284.0 472.7L286.8 475.6L284.0 478.4L281.1 475.6Z"/><path d="M279.3 488.2L282.2 491.0L279.3 493.9L276.5 491.0Z"/><path d="M284.0 487.4L286.8 490.2L284.0 493.1L281.1 490.2Z"/><path d="M281.6 498.1L284.5 500.9L281.6 503.8L278.8 500.9Z"/><path d="M281.8 425.1L284.7 428.0L281.8 430.9L278.9 428.0Z"/><path d="M281.8 430.8L284.7 433.6L281.8 436.5L278.9 433.6Z"/><path d="M299.6 437.2L302.2 442.0L297.0 442.0Z"/><path d="M308.3 438.1L310.9 442.9L305.7 442.9Z"/><path d="M304.2 452.4L306.8 457.2L301.6 457.2Z"/><path d="M306.1 456.2L308.7 461.0L303.5 461.0Z"/><path d="M302.0 459.8L304.6 464.6L299.4 464.6Z"/><path d="M304.2 465.3L306.8 470.1L301.6 470.1Z"/><path d="M306.1 467.4L308.7 472.2L303.5 472.2Z"/><path d="M308.3 476.6L310.9 481.4L305.7 481.4Z"/><path d="M304.2 480.7L306.8 485.5L301.6 485.5Z"/><path d="M306.1 492.4L308.7 497.2L303.5 497.2Z"/><path d="M302.0 495.4L304.6 500.2L299.4 500.2Z"/><path d="M326.6 444.0L329.2 439.2L324.0 439.2Z"/><path d="M322.1 460.4L324.7 455.6L319.5 455.6Z"/><path d="M330.6 460.1L333.2 455.3L328.0 455.3Z"/><path d="M326.3 463.1L328.9 458.3L323.7 458.3Z"/><path d="M322.1 466.4L324.7 461.6L319.5 461.6Z"/><path d="M326.3 468.7L328.9 463.9L323.7 463.9Z"/><path d="M330.6 468.1L333.2 463.3L328.0 463.3Z"/><path d="M326.3 474.2L328.9 469.4L323.7 469.4Z"/><path d="M326.6 491.8L329.2 487.0L324.0 487.0Z"/><path d="M329.1 494.4L331.7 489.6L326.5 489.6Z"/><path d="M324.1 497.7L326.7 492.9L321.5 492.9Z"/><circle cx="351.5" cy="415.6" r="2.35"/><circle cx="347.1" cy="419.6" r="2.35"/><circle cx="349.0" cy="428.4" r="2.35"/><circle cx="351.5" cy="431.8" r="2.35"/><circle cx="347.1" cy="433.9" r="2.35"/><circle cx="344.6" cy="441.0" r="2.35"/><circle cx="349.0" cy="441.6" r="2.35"/><circle cx="353.5" cy="441.0" r="2.35"/><circle cx="343.6" cy="445.3" r="2.35"/><circle cx="347.1" cy="446.0" r="2.35"/><circle cx="351.5" cy="446.0" r="2.35"/><circle cx="355.4" cy="444.2" r="2.35"/><circle cx="349.0" cy="451.5" r="2.35"/><circle cx="344.6" cy="455.0" r="2.35"/><circle cx="353.5" cy="455.4" r="2.35"/><circle cx="349.0" cy="457.9" r="2.35"/><circle cx="343.6" cy="460.8" r="2.35"/><circle cx="347.1" cy="462.3" r="2.35"/><circle cx="351.5" cy="461.5" r="2.35"/><circle cx="355.4" cy="461.8" r="2.35"/><circle cx="351.0" cy="464.8" r="2.35"/><circle cx="351.5" cy="471.1" r="2.35"/><circle cx="347.1" cy="473.3" r="2.35"/><circle cx="344.6" cy="474.8" r="2.35"/><circle cx="353.5" cy="474.8" r="2.35"/><circle cx="349.0" cy="477.7" r="2.35"/><circle cx="344.6" cy="480.7" r="2.35"/><circle cx="349.0" cy="482.9" r="2.35"/><circle cx="353.5" cy="482.5" r="2.35"/><circle cx="347.1" cy="491.7" r="2.35"/><circle cx="351.5" cy="492.8" r="2.35"/><circle cx="351.5" cy="495.1" r="2.35"/><circle cx="347.1" cy="499.1" r="2.35"/><path d="M369.3 432.3L372.2 435.2L369.3 438.1L366.4 435.2Z"/><path d="M374.0 432.0L376.9 434.9L374.0 437.8L371.1 434.9Z"/><path d="M367.0 435.5L369.9 438.4L367.0 441.2L364.1 438.4Z"/><path d="M376.3 435.5L379.2 438.4L376.3 441.2L373.4 438.4Z"/><path d="M374.0 440.5L376.9 443.4L374.0 446.2L371.1 443.4Z"/><path d="M371.6 448.3L374.5 451.2L371.6 454.1L368.8 451.2Z"/><path d="M371.6 460.8L374.5 463.7L371.6 466.6L368.8 463.7Z"/><path d="M369.3 476.5L372.2 479.4L369.3 482.2L366.4 479.4Z"/><path d="M374.0 476.5L376.9 479.4L374.0 482.2L371.1 479.4Z"/><path d="M374.0 478.3L376.9 481.2L374.0 484.1L371.1 481.2Z"/><path d="M371.6 490.5L374.5 493.4L371.6 496.2L368.8 493.4Z"/><path d="M371.6 498.0L374.5 500.9L371.6 503.8L368.8 500.9Z"/><path d="M392.3 434.4L394.9 439.2L389.7 439.2Z"/><path d="M396.0 434.4L398.6 439.2L393.4 439.2Z"/><path d="M389.5 458.1L392.1 462.9L386.9 462.9Z"/><path d="M393.7 458.1L396.3 462.9L391.1 462.9Z"/><path d="M397.9 458.1L400.5 462.9L395.3 462.9Z"/><path d="M391.4 461.4L394.0 466.2L388.8 466.2Z"/><path d="M396.0 463.7L398.6 468.5L393.4 468.5Z"/><path d="M393.7 471.6L396.3 476.4L391.1 476.4Z"/><path d="M391.4 478.1L394.0 482.9L388.8 482.9Z"/><path d="M411.9 458.6L414.5 453.8L409.3 453.8Z"/><path d="M415.7 459.3L418.3 454.5L413.1 454.5Z"/><path d="M420.5 457.4L423.1 452.6L417.9 452.6Z"/><path d="M413.8 464.6L416.4 459.8L411.2 459.8Z"/><path d="M417.9 464.6L420.5 459.8L415.3 459.8Z"/><path d="M410.9 468.7L413.5 463.9L408.3 463.9Z"/><path d="M411.7 473.5L414.3 468.7L409.1 468.7Z"/><path d="M416.0 475.9L418.6 471.1L413.4 471.1Z"/><path d="M420.3 474.9L422.9 470.1L417.7 470.1Z"/><circle cx="437.1" cy="419.8" r="2.35"/><circle cx="441.3" cy="421.1" r="2.35"/><circle cx="439.3" cy="426.3" r="2.35"/><circle cx="433.6" cy="429.8" r="2.35"/><circle cx="437.5" cy="432.0" r="2.35"/><circle cx="441.3" cy="433.6" r="2.35"/><circle cx="444.9" cy="430.7" r="2.35"/><circle cx="433.6" cy="437.7" r="2.35"/><circle cx="437.1" cy="438.1" r="2.35"/><circle cx="440.6" cy="438.1" r="2.35"/><circle cx="444.9" cy="437.2" r="2.35"/><circle cx="434.0" cy="440.7" r="2.35"/><circle cx="437.5" cy="441.1" r="2.35"/><circle cx="441.9" cy="440.3" r="2.35"/><circle cx="444.9" cy="440.7" r="2.35"/><circle cx="433.6" cy="444.2" r="2.35"/><circle cx="437.1" cy="443.7" r="2.35"/><circle cx="441.0" cy="444.6" r="2.35"/><circle cx="444.9" cy="444.6" r="2.35"/><circle cx="441.0" cy="446.3" r="2.35"/><circle cx="437.1" cy="448.5" r="2.35"/><circle cx="433.6" cy="451.6" r="2.35"/><circle cx="436.7" cy="452.4" r="2.35"/><circle cx="439.7" cy="452.9" r="2.35"/><circle cx="442.3" cy="452.0" r="2.35"/><circle cx="444.7" cy="450.3" r="2.35"/><circle cx="433.6" cy="459.8" r="2.35"/><circle cx="437.1" cy="462.0" r="2.35"/><circle cx="441.0" cy="461.6" r="2.35"/><circle cx="444.9" cy="459.0" r="2.35"/><path d="M458.7 444.4L461.6 447.3L458.7 450.2L455.8 447.3Z"/><path d="M457.0 446.9L459.9 449.8L457.0 452.7L454.1 449.8Z"/><path d="M463.6 444.8L466.5 447.7L463.6 450.6L460.8 447.7Z"/><path d="M466.1 450.4L469.0 453.3L466.1 456.2L463.2 453.3Z"/><path d="M461.5 462.2L464.4 465.1L461.5 468.0L458.6 465.1Z"/><path d="M461.5 463.6L464.4 466.5L461.5 469.4L458.6 466.5Z"/><path d="M466.1 467.1L469.0 470.0L466.1 472.9L463.2 470.0Z"/><path d="M459.1 468.5L462.0 471.4L459.1 474.2L456.2 471.4Z"/><path d="M463.3 471.8L466.2 474.6L463.3 477.5L460.4 474.6Z"/><path d="M457.0 474.1L459.9 477.0L457.0 479.9L454.1 477.0Z"/><path d="M461.2 477.3L464.1 480.2L461.2 483.1L458.3 480.2Z"/><path d="M465.7 475.9L468.6 478.8L465.7 481.7L462.8 478.8Z"/><path d="M483.9 428.3L486.5 433.1L481.3 433.1Z"/><path d="M481.5 446.3L484.1 451.1L478.9 451.1Z"/><path d="M483.9 462.6L486.5 467.4L481.3 467.4Z"/><path d="M486.0 468.3L488.6 473.1L483.4 473.1Z"/><path d="M479.5 471.5L482.1 476.3L476.9 476.3Z"/><path d="M488.2 471.5L490.8 476.3L485.6 476.3Z"/><path d="M483.9 475.3L486.5 480.1L481.3 480.1Z"/><path d="M483.9 482.4L486.5 487.2L481.3 487.2Z"/><path d="M483.9 487.3L486.5 492.1L481.3 492.1Z"/><path d="M503.8 461.4L506.4 456.6L501.2 456.6Z"/><path d="M508.7 460.7L511.3 455.9L506.1 455.9Z"/><path d="M510.3 462.9L512.9 458.1L507.7 458.1Z"/><path d="M502.2 465.9L504.8 461.1L499.6 461.1Z"/><path d="M510.1 471.9L512.7 467.1L507.5 467.1Z"/><path d="M503.8 477.9L506.4 473.1L501.2 473.1Z"/><path d="M508.1 479.0L510.7 474.2L505.5 474.2Z"/><path d="M504.9 484.9L507.5 480.1L502.3 480.1Z"/><path d="M508.7 484.4L511.3 479.6L506.1 479.6Z"/><path d="M504.9 489.8L507.5 485.0L502.3 485.0Z"/><path d="M503.6 496.9L506.2 492.1L501.0 492.1Z"/><path d="M508.1 495.3L510.7 490.5L505.5 490.5Z"/></g>
<g fill="#c41f45"><path d="M99.7 125.2L102.5 128.0L99.7 130.9L96.8 128.0Z"/><path d="M108.1 124.2L110.9 127.1L108.1 129.9L105.2 127.1Z"/><path d="M106.0 131.2L108.8 134.1L106.0 136.9L103.1 134.1Z"/><path d="M101.1 141.3L103.9 144.1L101.1 147.0L98.2 144.1Z"/><path d="M103.9 175.1L106.7 177.9L103.9 180.8L101.0 177.9Z"/><path d="M125.5 125.2L128.1 130.1L122.9 130.1Z"/><path d="M125.5 176.6L128.1 181.4L122.9 181.4Z"/><path d="M153.5 153.5L156.1 148.7L150.9 148.7Z"/><path d="M153.5 157.7L156.1 152.9L150.9 152.9Z"/><path d="M152.1 159.8L154.7 154.9L149.5 154.9Z"/><path d="M148.6 189.1L151.2 184.3L146.0 184.3Z"/><path d="M195.3 80.3L198.1 83.2L195.3 86.0L192.4 83.2Z"/><path d="M195.7 85.2L198.5 88.1L195.7 90.9L192.8 88.1Z"/><path d="M193.6 93.7L196.5 96.5L193.6 99.4L190.8 96.5Z"/><path d="M188.9 100.2L191.7 103.1L188.9 105.9L186.0 103.1Z"/><path d="M197.7 103.2L200.6 106.1L197.7 108.9L194.9 106.1Z"/><path d="M190.9 115.5L193.7 118.3L190.9 121.2L188.0 118.3Z"/><path d="M190.9 122.6L193.7 125.4L190.9 128.3L188.0 125.4Z"/><path d="M215.8 91.9L218.4 96.8L213.2 96.8Z"/><path d="M213.9 107.0L216.5 111.9L211.3 111.9Z"/><path d="M221.6 103.0L224.2 107.9L219.0 107.9Z"/><path d="M218.0 133.0L220.6 137.8L215.4 137.8Z"/><path d="M238.0 101.1L240.6 96.2L235.4 96.2Z"/><path d="M240.4 116.2L243.0 111.4L237.8 111.4Z"/><path d="M235.9 133.9L238.5 129.1L233.3 129.1Z"/><path d="M233.9 142.0L236.5 137.1L231.3 137.1Z"/><path d="M281.3 115.2L284.1 118.1L281.3 120.9L278.4 118.1Z"/><path d="M283.1 121.9L285.9 124.8L283.1 127.6L280.2 124.8Z"/><path d="M287.6 120.5L290.4 123.4L287.6 126.2L284.7 123.4Z"/><path d="M277.8 133.8L280.6 136.6L277.8 139.5L274.9 136.6Z"/><path d="M285.5 140.8L288.3 143.6L285.5 146.5L282.6 143.6Z"/><path d="M285.5 149.6L288.3 152.4L285.5 155.3L282.6 152.4Z"/><path d="M307.5 98.8L310.1 103.6L304.9 103.6Z"/><path d="M307.5 102.4L310.1 107.2L304.9 107.2Z"/><path d="M307.5 118.0L310.1 122.9L304.9 122.9Z"/><path d="M307.5 136.0L310.1 140.8L304.9 140.8Z"/><path d="M327.7 94.5L330.3 89.6L325.1 89.6Z"/><path d="M327.7 103.5L330.3 98.6L325.1 98.6Z"/><path d="M326.1 109.7L328.7 104.8L323.5 104.8Z"/><path d="M328.3 115.1L330.9 110.3L325.7 110.3Z"/><path d="M331.5 115.4L334.1 110.6L328.9 110.6Z"/><path d="M370.5 112.7L373.3 115.5L370.5 118.4L367.6 115.5Z"/><path d="M368.7 123.6L371.6 126.4L368.7 129.3L365.9 126.4Z"/><path d="M393.2 105.0L395.8 109.9L390.6 109.9Z"/><path d="M397.4 113.4L400.0 118.2L394.8 118.2Z"/><path d="M393.2 128.7L395.8 133.6L390.6 133.6Z"/><path d="M421.6 108.6L424.2 103.7L419.0 103.7Z"/><path d="M415.1 115.1L417.7 110.3L412.5 110.3Z"/><path d="M468.4 116.2L471.2 119.1L468.4 121.9L465.5 119.1Z"/><path d="M464.9 123.9L467.8 126.7L464.9 129.6L462.0 126.7Z"/><path d="M461.1 128.8L464.0 131.6L461.1 134.4L458.2 131.6Z"/><path d="M464.9 128.1L467.8 130.9L464.9 133.8L462.0 130.9Z"/><path d="M463.2 131.6L466.1 134.4L463.2 137.2L460.3 134.4Z"/><path d="M459.0 134.8L461.9 137.6L459.0 140.4L456.1 137.6Z"/><path d="M467.0 137.8L469.9 140.7L467.0 143.5L464.1 140.7Z"/><path d="M462.8 148.0L465.7 150.8L462.8 153.7L459.9 150.8Z"/><path d="M480.9 117.9L483.5 122.7L478.3 122.7Z"/><path d="M480.9 119.6L483.5 124.4L478.3 124.4Z"/><path d="M489.3 115.4L491.9 120.2L486.7 120.2Z"/><path d="M483.0 127.3L485.6 132.1L480.4 132.1Z"/><path d="M507.3 94.5L509.9 89.7L504.7 89.7Z"/><path d="M509.4 104.9L512.0 100.1L506.8 100.1Z"/><path d="M509.8 111.5L512.4 106.7L507.2 106.7Z"/><path d="M513.2 112.2L515.8 107.4L510.6 107.4Z"/><path d="M99.2 448.8L102.1 451.7L99.2 454.5L96.4 451.7Z"/><path d="M104.1 453.2L107.0 456.0L104.1 458.9L101.3 456.0Z"/><path d="M104.1 472.0L107.0 474.8L104.1 477.7L101.3 474.8Z"/><path d="M124.4 436.9L127.0 441.7L121.8 441.7Z"/><path d="M126.6 456.8L129.2 461.6L124.0 461.6Z"/><path d="M142.3 445.7L144.9 440.9L139.7 440.9Z"/><path d="M142.3 456.0L144.9 451.2L139.7 451.2Z"/><path d="M187.8 440.1L190.7 443.0L187.8 445.9L185.0 443.0Z"/><path d="M186.5 464.6L189.3 467.5L186.5 470.4L183.7 467.5Z"/><path d="M197.9 464.6L200.8 467.5L197.9 470.4L195.1 467.5Z"/><path d="M192.0 479.1L194.8 482.0L192.0 484.9L189.2 482.0Z"/><path d="M214.3 430.1L216.9 434.9L211.7 434.9Z"/><path d="M216.1 459.4L218.7 464.2L213.5 464.2Z"/><path d="M210.1 462.9L212.7 467.7L207.5 467.7Z"/><path d="M236.5 445.1L239.1 440.3L233.9 440.3Z"/><path d="M236.5 475.2L239.1 470.4L233.9 470.4Z"/><path d="M279.3 473.7L282.2 476.5L279.3 479.4L276.5 476.5Z"/><path d="M281.6 478.3L284.5 481.2L281.6 484.0L278.8 481.2Z"/><path d="M281.8 436.0L284.7 438.9L281.8 441.8L278.9 438.9Z"/><path d="M281.9 537.6L284.8 540.5L281.9 543.4L279.0 540.5Z"/><path d="M304.0 441.3L306.6 446.1L301.4 446.1Z"/><path d="M302.0 470.4L304.6 475.2L299.4 475.2Z"/><path d="M299.6 480.7L302.2 485.5L297.0 485.5Z"/><path d="M324.3 480.7L326.9 475.9L321.7 475.9Z"/><path d="M328.6 479.5L331.2 474.7L326.0 474.7Z"/><path d="M371.6 437.6L374.5 440.5L371.6 443.4L368.8 440.5Z"/><path d="M369.3 442.8L372.2 445.7L369.3 448.6L366.4 445.7Z"/><path d="M367.0 456.2L369.9 459.1L367.0 462.0L364.1 459.1Z"/><path d="M371.6 455.0L374.5 457.9L371.6 460.8L368.8 457.9Z"/><path d="M376.3 455.9L379.2 458.8L376.3 461.7L373.4 458.8Z"/><path d="M371.6 470.8L374.5 473.6L371.6 476.5L368.8 473.6Z"/><path d="M369.3 481.2L372.2 484.1L369.3 487.0L366.4 484.1Z"/><path d="M396.0 462.8L398.6 467.6L393.4 467.6Z"/><path d="M391.4 467.4L394.0 472.2L388.8 472.2Z"/><path d="M396.5 474.4L399.1 479.2L393.9 479.2Z"/><path d="M414.1 469.6L416.7 464.8L411.5 464.8Z"/><path d="M417.4 468.9L420.0 464.1L414.8 464.1Z"/><path d="M420.8 468.9L423.4 464.1L418.2 464.1Z"/><path d="M461.2 450.8L464.1 453.6L461.2 456.5L458.3 453.6Z"/><path d="M455.9 460.5L458.8 463.4L455.9 466.2L453.0 463.4Z"/><path d="M458.7 461.9L461.6 464.8L458.7 467.7L455.8 464.8Z"/><path d="M466.8 460.1L469.7 463.0L466.8 465.9L463.9 463.0Z"/><path d="M464.0 462.2L466.9 465.1L464.0 468.0L461.1 465.1Z"/><path d="M457.7 466.4L460.6 469.3L457.7 472.2L454.8 469.3Z"/><path d="M486.0 446.3L488.6 451.1L483.4 451.1Z"/><path d="M481.5 457.4L484.1 462.2L478.9 462.2Z"/><path d="M486.0 457.6L488.6 462.4L483.4 462.4Z"/><path d="M481.5 466.1L484.1 470.9L478.9 470.9Z"/><path d="M506.2 442.2L508.8 437.4L503.6 437.4Z"/><path d="M506.2 450.5L508.8 445.7L503.6 445.7Z"/><path d="M506.0 467.6L508.6 462.8L503.4 462.8Z"/><path d="M506.0 470.3L508.6 465.5L503.4 465.5Z"/></g>
</svg>
</body></html>
